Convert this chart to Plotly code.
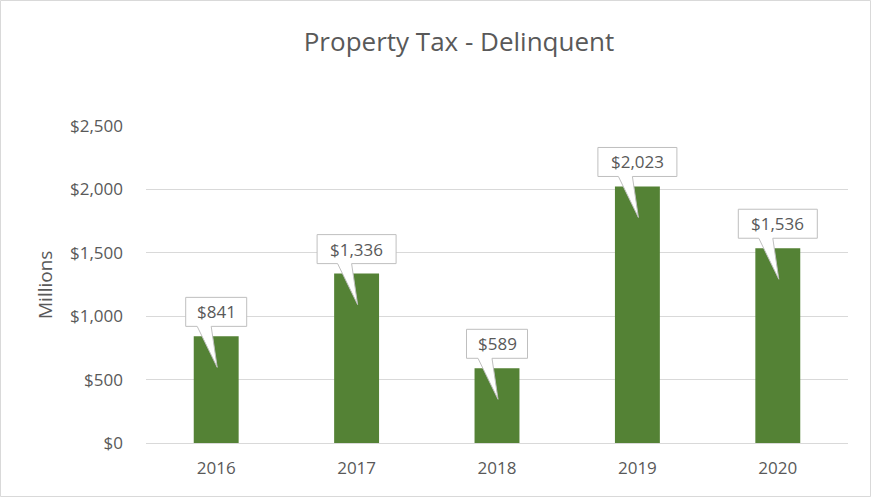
import plotly.graph_objects as go

years = ["2016", "2017", "2018", "2019", "2020"]
values = [841, 1336, 589, 2023, 1536]
labels = ["$841", "$1,336", "$589", "$2,023", "$1,536"]
y_ticks = [0, 500, 1000, 1500, 2000, 2500]
y_tick_labels = ["$0", "$500", "$1,000", "$1,500", "$2,000", "$2,500"]

BAR = "#548235"
TXT = "#595959"
GRID = "#d9d9d9"
FONT = "Open Sans"

W, H = 871, 497
L, R, T, B = 146, 23, 126, 54
PW, PH = W - L - R, H - T - B

fig = go.Figure()
fig.add_trace(go.Bar(x=years, y=values, marker=dict(color=BAR, line=dict(width=0)),
                     width=0.32, hoverinfo="skip"))

shapes = []
annotations = []
for i, (v, lab) in enumerate(zip(values, labels)):
    bw = 9 * len(lab) + 25
    hw = bw / 2
    b0, b1 = 10, 39  # box bottom/top above bar top (pixels)
    path = (f"M {-hw} {b0} L {-19} {b0} L 1 -31 L {-5} {b0} L {hw} {b0} "
            f"L {hw} {b1} L {-hw} {b1} Z")
    shapes.append(dict(type="path", xref="x", yref="y", xsizemode="pixel", ysizemode="pixel",
                       xanchor=i, yanchor=v, path=path, fillcolor="white",
                       line=dict(color="#bfbfbf", width=1), layer="above"))
    annotations.append(dict(x=i, y=v, text=lab, showarrow=False, yshift=24.5,
                            font=dict(family=FONT, size=17, color=TXT)))

# y axis title
annotations.append(dict(text="Millions", textangle=-90, showarrow=False,
                        xref="paper", yref="paper", xanchor="center", yanchor="middle",
                        x=(45 - L) / PW, y=(T + PH - 285) / PH,
                        font=dict(family=FONT, size=19, color=TXT)))

# outer chart border
shapes.append(dict(type="rect", xref="paper", yref="paper",
                   x0=(0.5 - L) / PW, x1=(W - 0.5 - L) / PW,
                   y0=-(B - 0.5) / PH, y1=(PH + T - 0.5) / PH,
                   line=dict(color=GRID, width=1), fillcolor="rgba(0,0,0,0)", layer="below"))

fig.update_layout(
    width=W, height=H,
    margin=dict(l=L, r=R, t=T, b=B, autoexpand=False),
    paper_bgcolor="white", plot_bgcolor="white",
    showlegend=False,
    title=dict(text="Property Tax - Delinquent", x=459 / W,
               xref="container", y=1 - 42 / H, yref="container", xanchor="center", yanchor="middle",
               font=dict(family=FONT, size=26, color=TXT)),
    font=dict(family=FONT, color=TXT),
    shapes=shapes,
    annotations=annotations,
)
fig.update_xaxes(type="category", categoryarray=years, range=[-0.5, len(years) - 0.5],
                 showgrid=False, showline=True, linecolor=GRID, linewidth=1, ticks="",
                 tickfont=dict(family=FONT, size=17, color=TXT), ticklabelstandoff=10)
fig.update_yaxes(range=[0, 2500], tickvals=y_ticks, ticktext=y_tick_labels,
                 showgrid=True, gridcolor=GRID, gridwidth=1, zeroline=False, showline=False, ticks="",
                 tickfont=dict(family=FONT, size=17, color=TXT), ticklabelstandoff=22)

fig.write_html("out.html", config={"displayModeBar": False},
               post_script="document.body.style.margin='0';")
